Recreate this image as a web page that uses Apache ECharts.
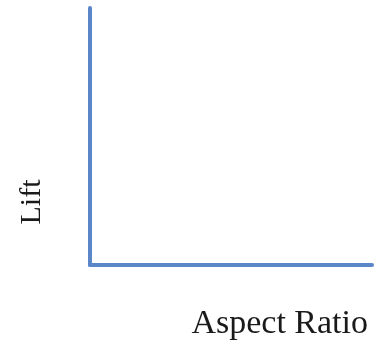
<!DOCTYPE html>
<html>
<head>
<meta charset="utf-8">
<script src="https://cdn.jsdelivr.net/npm/echarts@6/dist/echarts.min.js"></script>
<style>
  html, body { margin: 0; padding: 0; background: #fff; }
  #main { width: 376px; height: 345px; }
</style>
</head>
<body>
<div id="main"></div>
<script>
// 坐标轴名称与数据（示意图，无数据点）
const xName = 'Aspect Ratio';
const yName = 'Lift';
const xRange = [0, 10];
const yRange = [0, 10];
const seriesData = [];

const axisBlue = '#5b86c8';
const font = '"Liberation Serif", "DejaVu Serif", serif';

const myChart = echarts.init(document.getElementById('main'));
myChart.setOption({
  backgroundColor: '#fff',
  animation: false,
  grid: { left: 90, top: 8, right: 4, bottom: 80 },
  xAxis: {
    type: 'value',
    min: xRange[0],
    max: xRange[1],
    name: xName,
    nameLocation: 'end',
    nameGap: 0,
    nameTextStyle: {
      fontFamily: font, fontSize: 34, color: '#1a1a1a',
      align: 'right', verticalAlign: 'top', padding: [42, 4, 0, 0]
    },
    axisLine: { show: true, lineStyle: { color: axisBlue, width: 4 } },
    axisTick: { show: false },
    axisLabel: { show: false },
    splitLine: { show: false }
  },
  yAxis: {
    type: 'value',
    min: yRange[0],
    max: yRange[1],
    name: yName,
    nameLocation: 'middle',
    nameRotate: 90,
    nameGap: 43,
    nameTextStyle: {
      fontFamily: font, fontSize: 30, color: '#1a1a1a',
      padding: [0, 131, 0, 0]
    },
    axisLine: { show: true, lineStyle: { color: axisBlue, width: 4 } },
    axisTick: { show: false },
    axisLabel: { show: false },
    splitLine: { show: false }
  },
  series: [{ type: 'line', data: seriesData, symbol: 'none' }]
});
</script>
</body>
</html>
